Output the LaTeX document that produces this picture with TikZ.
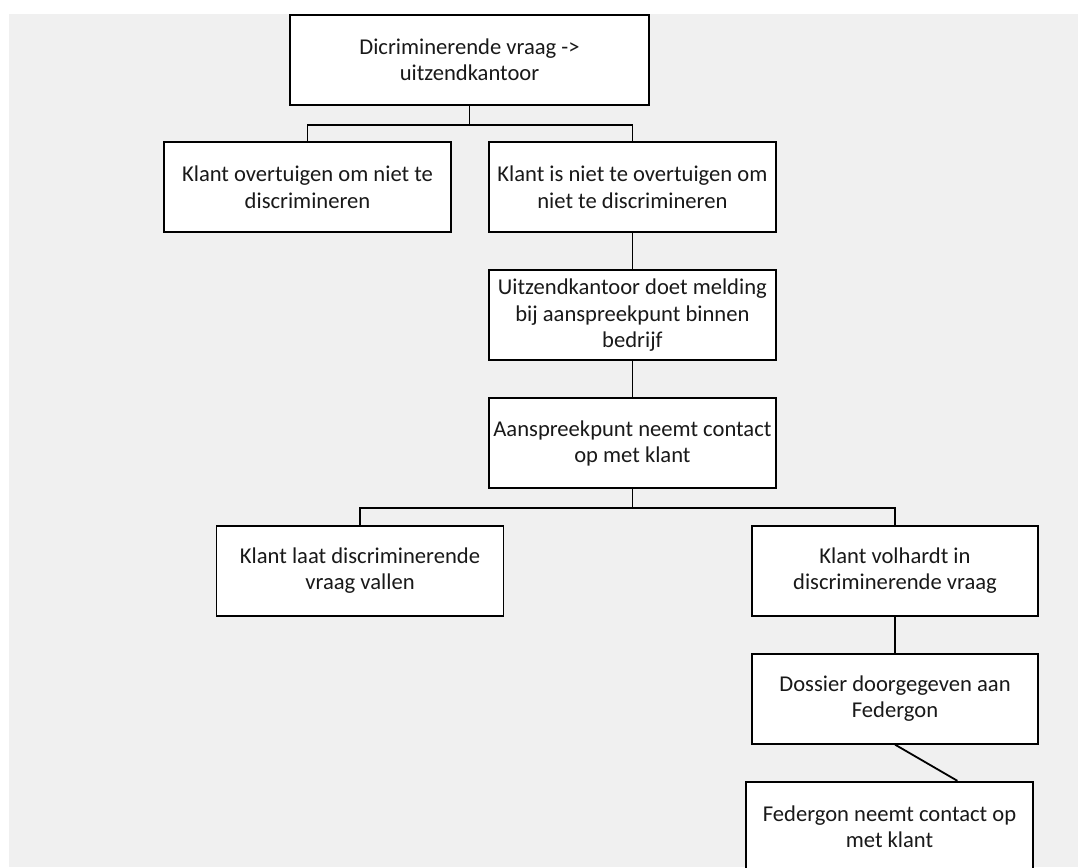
\documentclass[tikz,border=0pt]{standalone}
\usepackage{fontspec}
\setmainfont{Carlito}
\usetikzlibrary{calc}
\definecolor{bggray}{HTML}{F0F0F0}
\tikzset{
  box/.style={draw=black, fill=white, line width=1.8pt, rectangle, inner sep=0pt,
    minimum width=287pt, minimum height=90pt, align=center,
    font=\fontsize{22.6}{26.5}\selectfont, text=black!90},
  link/.style={draw=black, line width=1.8pt}
}
\begin{document}
\begin{tikzpicture}[x=1pt,y=-1pt]
\useasboundingbox (0,0) rectangle (1078,867);
\clip (0,0) rectangle (1078,867);
\fill[bggray] (9,14) rectangle (1078,867);

\node[box, minimum width=359pt] (top) at (469.5,59.7) {Dicriminerende vraag -\textgreater\\uitzendkantoor};
\node[box] (b2) at (307.5,187.3) {Klant overtuigen om niet te\\discrimineren};
\node[box] (b3) at (632.4,187.3) {Klant is niet te overtuigen om\\niet te discrimineren};
\node[box] (b4) at (632.4,315.3) {Uitzendkantoor doet melding\\bij aanspreekpunt binnen\\bedrijf};
\node[box] (b5) at (632.4,443.3) {Aanspreekpunt neemt contact\\op met klant};
\node[box] (b6) at (360,570.7) {Klant laat discriminerende\\vraag vallen};
\node[box, minimum width=286pt] (b7) at (895,570.7) {Klant volhardt in\\discriminerende vraag};
\node[box, minimum width=286pt] (b8) at (895,698.7) {Dossier doorgegeven aan\\Federgon};
\node[box] (b9) at (889.5,826.7) {Federgon neemt contact op\\met klant};

\draw[link] (top.south) -- ++(0,19) -| (b2.north);
\draw[link] (top.south) -- ++(0,19) -| (b3.north);
\draw[link] (b3.south) -- (b4.north);
\draw[link] (b4.south) -- (b5.north);
\draw[link] (b5.south) -- ++(0,19) -| (b6.north);
\draw[link] (b5.south) -- ++(0,19) -| (b7.north);
\draw[link] (b7.south) -- (b8.north);
\draw[link] (b8.south) -- ($(b9.north)!0.47!(b9.north east)$);
\end{tikzpicture}
\end{document}
